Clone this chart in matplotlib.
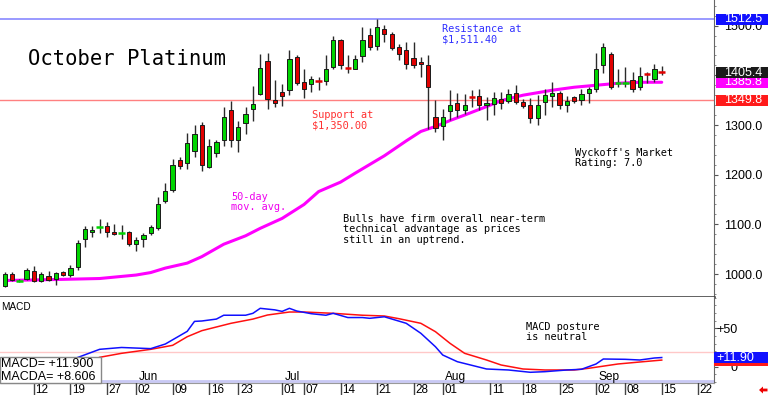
import numpy as np
import matplotlib
matplotlib.use('Agg')
import matplotlib.pyplot as plt
from matplotlib.patches import Rectangle, Polygon
from matplotlib.ticker import MultipleLocator, FixedLocator

W, H = 768, 395

# daily OHLC, October platinum, one row per session (May 6 .. Sep 15)
opens = [976, 1001, 986, 991, 1007, 986, 996, 991, 1004, 998,
         1015, 1070, 1084, 1093, 1097, 1085, 1081, 1085, 1060, 1070,
         1082, 1092, 1147, 1169, 1229, 1223, 1247, 1299, 1216, 1244,
         1270, 1330, 1270, 1305, 1332, 1362, 1428, 1350, 1367, 1370,
         1437, 1387, 1383, 1389, 1389, 1416, 1472, 1417, 1413, 1439,
         1482, 1459, 1494, 1483, 1456, 1450, 1435, 1427, 1420, 1317,
         1297, 1329, 1344, 1330, 1358, 1358, 1341, 1342, 1352, 1349,
         1364, 1346, 1341, 1314, 1346, 1358, 1364, 1340, 1356, 1350,
         1365, 1372, 1420, 1443, 1384, 1384, 1391, 1377, 1403, 1393,
         1407]
highs = [1005, 1004, 990, 1012, 1016, 1004, 1007, 1004, 1007, 1019,
         1068, 1097, 1097, 1110, 1104, 1100, 1099, 1087, 1075, 1083,
         1099, 1155, 1184, 1232, 1235, 1283, 1299, 1307, 1272, 1270,
         1336, 1349, 1309, 1336, 1378, 1443, 1444, 1390, 1383, 1450,
         1440, 1412, 1398, 1396, 1440, 1479, 1474, 1440, 1441, 1498,
         1495, 1513, 1502, 1488, 1463, 1467, 1467, 1437, 1440, 1350,
         1333, 1370, 1364, 1362, 1370, 1373, 1356, 1366, 1366, 1373,
         1381, 1352, 1354, 1360, 1372, 1387, 1369, 1358, 1358, 1372,
         1377, 1444, 1466, 1446, 1413, 1417, 1407, 1416, 1407, 1423,
         1419]
lows = [973, 986, 984, 988, 984, 984, 987, 977, 997, 995,
        1009, 1055, 1074, 1082, 1075, 1078, 1070, 1057, 1047, 1055,
        1078, 1089, 1144, 1165, 1212, 1212, 1236, 1208, 1214, 1235,
        1258, 1256, 1246, 1282, 1309, 1360, 1333, 1336, 1338, 1360,
        1380, 1354, 1367, 1370, 1380, 1412, 1412, 1404, 1412, 1427,
        1451, 1451, 1467, 1450, 1431, 1413, 1415, 1397, 1291, 1285,
        1270, 1310, 1317, 1323, 1337, 1330, 1310, 1321, 1333, 1345,
        1342, 1334, 1305, 1299, 1320, 1337, 1332, 1326, 1344, 1341,
        1345, 1366, 1404, 1373, 1376, 1376, 1366, 1370, 1384, 1387,
        1400]
closes = [1000, 989, 988, 1009, 985, 1000, 989, 1002, 999, 1013,
          1062, 1090, 1088, 1095, 1084, 1080, 1083, 1061, 1068, 1079,
          1095, 1141, 1168, 1219, 1218, 1263, 1281, 1220, 1258, 1266,
          1317, 1270, 1295, 1322, 1342, 1415, 1352, 1344, 1358, 1433,
          1384, 1373, 1392, 1388, 1413, 1471, 1420, 1414, 1433, 1472,
          1458, 1497, 1483, 1454, 1442, 1423, 1421, 1423, 1376, 1293,
          1317, 1341, 1330, 1340, 1356, 1341, 1345, 1354, 1344, 1362,
          1346, 1338, 1314, 1341, 1360, 1364, 1340, 1349, 1349, 1362,
          1372, 1413, 1456, 1376, 1387, 1386, 1373, 1398, 1402, 1412,
          1405]

# 50-day moving average (session index, value)
ma_days = [0, 7, 13, 18, 20, 22, 25, 27, 30, 33, 35, 38, 41, 43, 46, 48,
           52, 55, 57, 59, 61, 63, 66, 68, 71, 75, 78, 81, 84, 87, 90]
ma_vals = [987, 989, 991, 998, 1003, 1012, 1022, 1035, 1060, 1077, 1092,
           1112, 1140, 1166, 1185, 1203, 1238, 1268, 1287, 1297, 1309,
           1320, 1337, 1349, 1360, 1370, 1376, 1380, 1384, 1386, 1386]

# MACD (blue) and its average MACDA (red)
macd_days = [10, 13, 16, 20, 22, 25, 26, 27, 29, 30, 33, 34, 35, 37, 38, 39,
             40, 42, 44, 45, 47, 49, 50, 52, 55, 57, 59, 60, 62, 66, 69, 72,
             74, 77, 79, 81, 82, 85, 87, 89, 90]
macd_vals = [12, 22.6, 25, 23.5, 29.5, 46, 59, 59.5, 62, 67, 67, 69.5, 76,
             74, 72, 76, 72.5, 69, 67, 69.5, 64, 64, 63, 65, 56.5, 43.5, 26,
             15.2, 6.5, -3, -4.3, -7.3, -6.5, -4.3, -3.4, 3.5, 10, 9.6, 8.7,
             11.3, 11.9]
sig_days = [13, 16, 20, 23, 25, 27, 31, 34, 36, 39, 41, 45, 49, 52, 54, 57,
            59, 61, 63, 66, 68, 71, 74, 78, 80, 84, 87, 90]
sig_vals = [12.2, 17.4, 22.6, 27.8, 39, 46.9, 56.5, 62, 67.3, 71.2, 71.2,
            69.5, 67, 66, 62.5, 56.5, 45.6, 30.4, 17.4, 8.7, 2.2, -3, -4.3,
            -4.3, -2.1, 3.5, 6.1, 8.6]

tick_days = [4, 9, 14, 18, 23, 28, 32, 38, 41, 46, 51, 56, 60, 66.5, 71, 76,
             81, 85, 90, 95]
tick_labels = ['12', '19', '27', '02', '09', '16', '23', '01', '07', '14',
               '21', '28', '01', '11', '18', '25', '02', '08', '15', '22']
month_days = [18, 38, 60, 81]
month_names = ['Jun', 'Jul', 'Aug', 'Sep']

price_ticks = [1000, 1100, 1200, 1300, 1400, 1500]
resistance = 1512.5
support = 1349.8
last_price = 1405.4
last_ma = 1385.8
last_macd = 11.90
last_macda = 8.606

SANS = 'Liberation Sans'
MONO = 'DejaVu Sans Mono'


def fx(px):
    return px / W


def fy(py):
    return 1 - py / H


fig = plt.figure(figsize=(W / 100, H / 100), dpi=100)
fig.patch.set_facecolor('white')

XL = (-0.644, 97.16)
ax = fig.add_axes([0, fy(297), fx(714), 297 / H])
axm = fig.add_axes([0, fy(382.5), fx(714), (382.5 - 297) / H])
axd = fig.add_axes([0, fy(395), fx(714), (395 - 382.5) / H])

# ---- price panel
o = np.array(opens, float)
c = np.array(closes, float)
hi = np.array(highs, float)
lo = np.array(lows, float)
days = np.arange(len(o))
up = c >= o
body = np.abs(c - o)
big = body >= 3.5

ax.axhline(resistance, color='#9a9aff', lw=1.4, zorder=1)
ax.axhline(support, color='#ff8080', lw=1.0, zorder=1)
ax.plot(ma_days, ma_vals, color='#ff00ff', lw=2.2, zorder=1.5,
        solid_capstyle='round')

ax.vlines(days, lo, hi, color='#2a2a2a', lw=1.0, zorder=2)
for mask, col in ((up, '#00d400'), (~up, '#e00000')):
    m = mask & big
    ax.bar(days[m], body[m], bottom=np.minimum(o, c)[m], width=0.58,
           color=col, edgecolor='#1a1a1a', linewidth=0.7, zorder=3)
    m = mask & ~big
    ax.hlines((o[m] + c[m]) / 2, days[m] - 0.45, days[m] + 0.45,
              colors=col, lw=1.8, zorder=3)

ax.set_xlim(XL)
ax.set_ylim(953.8, 1551.6)
ax.set_xticks([])
ax.yaxis.tick_right()
ax.yaxis.set_major_locator(FixedLocator(price_ticks))
ax.set_yticklabels([f'{v:.1f}' for v in price_ticks], family=SANS,
                   fontsize=9)
ax.yaxis.set_minor_locator(MultipleLocator(20))
ax.tick_params(axis='y', which='major', length=3, width=0.8, color='#555',
               pad=4)
ax.tick_params(axis='y', which='minor', length=1.5, width=0.6, color='#777')
for s in ('top', 'left'):
    ax.spines[s].set_visible(False)
ax.spines['right'].set_color('#666')
ax.spines['bottom'].set_color('#333')
ax.spines['bottom'].set_linewidth(1.8)

# ---- MACD panel
axm.axhline(19, color='#ffc8c8', lw=1.0, zorder=1)
axm.plot(sig_days, sig_vals, color='#ff1010', lw=1.1, zorder=2)
axm.plot(macd_days, macd_vals, color='#1010ff', lw=1.1, zorder=3)
axm.axhline(-18.6, xmin=100 / 714, color='#c8c8f4', lw=2, zorder=1)
axm.set_xlim(XL)
axm.set_ylim(-20.6, 90.75)
axm.set_xticks([])
axm.yaxis.tick_right()
axm.yaxis.set_major_locator(FixedLocator([0, 50]))
axm.set_yticklabels(['0', '+50'], family=SANS, fontsize=9)
for lab in axm.get_yticklabels():
    lab.set_horizontalalignment('right')
axm.yaxis.set_minor_locator(MultipleLocator(10))
axm.tick_params(axis='y', which='major', length=3, width=0.8, color='#555',
                pad=14)
axm.tick_params(axis='y', which='minor', length=1.5, width=0.6, color='#777')
for s in ('top', 'left'):
    axm.spines[s].set_visible(False)
axm.spines['right'].set_color('#666')
axm.spines['bottom'].set_color('#999')

for d, name in zip(month_days, month_names):
    axm.text(d + 0.3, -17.6, name, family=SANS, fontsize=8.6,
             ha='left', va='baseline', zorder=4)

# ---- date strip
axd.set_xlim(XL)
axd.set_ylim(0, 1)
axd.axis('off')
for t, lab in zip(tick_days, tick_labels):
    axd.axvline(t, color='#444', lw=1)
    axd.text(t + 0.22, 0.42, lab, family=SANS, fontsize=8.4,
             ha='left', va='center', clip_on=False)

# ---- value boxes on the right
z = [5]


def side_box(axis, value, text, face, left=716, text_x=743, ha='center',
             h=11.5):
    yd = axis.transData.transform((0, value))[1]
    fig.patches.append(Rectangle((fx(left), (yd - h / 2) / H),
                                 fx(768 - left), h / H,
                                 transform=fig.transFigure, facecolor=face,
                                 edgecolor='none', zorder=z[0]))
    if text:
        fig.text(fx(text_x), yd / H, text, color='white', ha=ha,
                 va='center', family=SANS, fontsize=9, zorder=z[0] + 0.05)
    z[0] += 0.1


side_box(ax, support, f'{support:.1f}', '#ff1a1a')
side_box(ax, last_ma, f'{last_ma:.1f}', '#ff00ff')
side_box(ax, last_price, f'{last_price:.1f}', '#1a1a1a')
side_box(ax, resistance, f'{resistance:.1f}', '#1010ff')
side_box(axm, last_macda, '', '#ff1a1a', left=714, h=11.7)
side_box(axm, last_macd, f'+{last_macd:.2f}', '#1010ff', left=714,
         text_x=716, ha='left', h=11.7)

# ---- MACD readout box
fig.patches.append(Rectangle((0, fy(383)), fx(101), 26 / H,
                             transform=fig.transFigure, facecolor='white',
                             edgecolor='#888', lw=1, zorder=4))
fig.text(fx(1), fy(367), f'MACD= +{last_macd:.3f}', family=SANS, fontsize=9,
         va='baseline', zorder=4.5)
fig.text(fx(1), fy(380), f'MACDA= +{last_macda:.3f}', family=SANS,
         fontsize=9, va='baseline', zorder=4.5)
fig.text(fx(1), fy(309.5), 'MACD', family=SANS, fontsize=7.2, va='baseline')

# ---- annotations (y = baseline of the last line)
fig.text(fx(28), fy(65), 'October Platinum', family=MONO, fontsize=14.8,
         va='baseline')
notes = [
    (442, 42.7, 'Resistance at\n$1,511.40', '#3030ff'),
    (312, 128.7, 'Support at\n$1,350.00', '#ff3030'),
    (231, 210.5, '50-day\nmov. avg.', '#ee00ee'),
    (343, 242.7, 'Bulls have firm overall near-term\ntechnical advantage as '
                 'prices\nstill in an uptrend.', 'black'),
    (575, 166, "Wyckoff's Market\nRating: 7.0", 'black'),
    (526, 340, 'MACD posture\nis neutral', 'black'),
]
for px, py, txt, col in notes:
    fig.text(fx(px), fy(py), txt, family=MONO, fontsize=7.4, color=col,
             va='baseline', ha='left', linespacing=1.04)

# little red arrow bottom right
fig.patches.append(Polygon([(fx(759), fy(390)), (fx(763), fy(386.5)),
                            (fx(763), fy(388.6)), (fx(767.5), fy(388.6)),
                            (fx(767.5), fy(391.4)), (fx(763), fy(391.4)),
                            (fx(763), fy(393.5))],
                           closed=True, transform=fig.transFigure,
                           facecolor='#ee0000', edgecolor='none'))

fig.savefig('out.png', dpi=100, facecolor='white')
